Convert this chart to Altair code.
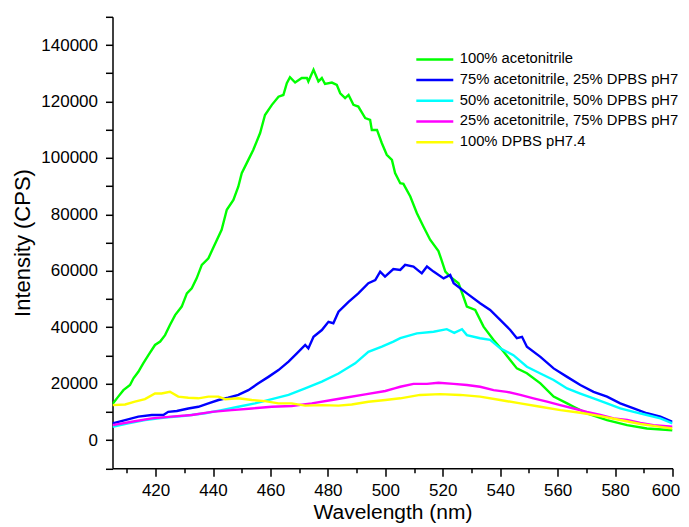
import altair as alt
import pandas as pd

series_names = [
    "100% acetonitrile",
    "75% acetonitrile, 25% DPBS pH7",
    "50% acetonitrile, 50% DPBS pH7",
    "25% acetonitrile, 75% DPBS pH7",
    "100% DPBS pH7.4",
]
series_colors = ["#00ff00", "#0000ff", "#00ffff", "#ff00ff", "#ffff00"]

green_wl = [405, 407, 408.8, 411.1, 412.3, 414, 415.7, 417.5, 419.8, 421.6, 423.3, 425, 426.8, 429.1,
            430.9, 432.6, 434.3, 436.1, 438.4, 440, 443, 444.8, 447.1, 448.8, 450, 452.3, 454, 456.4,
            458.1, 460.5, 462.8, 464.5, 465.7, 466.8, 468.6, 470.9, 472.7, 473.2, 475, 476.7, 477.9,
            479, 481.4, 483.1, 484.3, 486, 487.2, 488.9, 490.6, 493, 494.7, 495.3, 497.1, 498.8, 500.5,
            502.3, 503.4, 505.2, 506.3, 508.7, 511, 513.3, 515.6, 518.5, 519.5, 520.9, 523, 525.5,
            527.2, 528.4, 531.3, 534.2, 537.7, 541.2, 545.8, 549.3, 554, 558.6, 563.3, 565.6, 570.2,
            577.2, 584.2, 591.1, 600]
green_int = [12800, 15400, 17700, 19500, 21900, 24200, 27200, 30100, 33700, 34900, 37200, 40800, 44300,
             47300, 52000, 53800, 57300, 62100, 64400, 68000, 74500, 81600, 85100, 89800, 94600, 99300,
             102800, 108800, 115200, 118800, 121700, 122300, 126500, 128600, 126700, 128300, 128300,
             127100, 131200, 127100, 128300, 126200, 126700, 125900, 122900, 121200, 122300, 118800,
             118200, 114100, 113500, 109900, 109900, 105200, 101100, 99300, 94600, 91000, 90800, 86300,
             80400, 75600, 71000, 67000, 64000, 59700, 57500, 55600, 50800, 47300, 46100, 40200, 35500,
             31300, 25400, 23700, 20100, 15400, 13000, 11800, 9500, 7100, 5300, 4100, 3500]

blue_wl = [405, 409.4, 414, 418.7, 422.7, 424.4, 427.4, 431.4, 434.9, 438.4, 441.9, 445.3, 448.8, 452.3,
           455.8, 459.3, 462.8, 466.3, 469.2, 472.1, 473.2, 475, 477.9, 480.2, 481.9, 483.7, 487.2,
           490.6, 494.1, 496.5, 498.2, 499.9, 502.8, 505.2, 506.9, 509.8, 512.7, 514.5, 516.8, 520.3,
           522.6, 523.8, 528.4, 533, 536.5, 540, 543.5, 545.8, 547.6, 549.3, 554, 558.6, 563.3, 567.9,
           572.5, 577.2, 581.8, 586.5, 591.1, 595.8, 600]
blue_int = [5900, 7100, 8300, 8900, 8900, 10000, 10300, 11200, 11800, 13000, 14200, 15000, 16000, 17700,
            20100, 22400, 24800, 27800, 30700, 33700, 32500, 36600, 39000, 41900, 41400, 45500, 49000,
            52000, 55600, 56700, 59700, 57900, 60600, 60300, 62100, 61500, 59100, 61500, 59700, 57300,
            58500, 55600, 52000, 48500, 46100, 42600, 39000, 36100, 36600, 33100, 29500, 25400, 22400,
            19500, 17100, 15400, 13000, 11200, 9500, 8300, 6500]

cyan_wl = [405, 410.5, 416.3, 423.3, 430.3, 437.3, 443, 448.8, 454.6, 460.5, 466.3, 472.1, 477.9, 483.7,
           489.5, 494.1, 498.8, 502.8, 505.2, 511, 516.8, 521.4, 524, 526.7, 528.4, 533, 536.5, 540,
           544.6, 549.3, 554, 558.6, 563.3, 567.9, 572.5, 577.2, 581.8, 586.5, 591.1, 595.8, 600]
cyan_int = [4700, 5900, 7100, 8000, 8600, 9500, 10600, 11800, 13000, 14500, 16000, 18300, 20700, 23600,
            27200, 31300, 33100, 34900, 36100, 37800, 38400, 39300, 38000, 39300, 37200, 36100, 35500,
            32500, 30100, 26000, 23600, 21300, 18300, 16500, 14800, 13000, 11200, 10000, 8900, 7700, 5900]

magenta_wl = [405, 411.7, 418.7, 425.6, 432.6, 439.6, 446.5, 453.5, 460.5, 467.4, 474.4, 481.4, 486, 493,
              500, 503.2, 505.2, 509.8, 514.5, 518.5, 523.8, 528.4, 533, 537.7, 542.3, 547, 551.6,
              556.3, 560.9, 565.6, 570.2, 574.9, 579.5, 584.2, 588.8, 593.4, 600]
magenta_int = [5300, 6500, 7700, 8300, 8900, 10000, 10600, 11200, 11800, 12100, 13000, 14200, 15000,
               16200, 17400, 18300, 18900, 19900, 19900, 20300, 19900, 19500, 18900, 17700, 17100, 16000,
               14800, 13600, 12400, 11200, 10000, 8900, 7700, 7100, 6100, 5300, 4700]

yellow_wl = [405, 409.4, 412.8, 416.3, 419.8, 422.1, 425, 427.9, 431.4, 434.9, 438.4, 441.9, 444.2,
             448.8, 453.5, 458.1, 462.8, 467.4, 472.1, 477.9, 483.7, 488.3, 494.1, 500, 505.2, 512.1,
             519.1, 526.1, 533, 540, 547, 554, 561, 567.9, 574.9, 581.8, 588.8, 595.8, 600]
yellow_int = [12400, 12600, 13600, 14500, 16500, 16500, 17100, 15400, 15000, 14800, 15400, 15400, 14500,
              14800, 14200, 13800, 13000, 13000, 12200, 12400, 12200, 12600, 13600, 14200, 14800, 16000,
              16300, 16000, 15400, 14200, 13000, 11800, 10600, 9700, 8500, 7100, 5700, 4700, 4100]

x_ticks = list(range(410, 601, 10))
y_ticks = list(range(-10000, 150001, 10000))

rows = []
all_wl = [green_wl, blue_wl, cyan_wl, magenta_wl, yellow_wl]
all_int = [green_int, blue_int, cyan_int, magenta_int, yellow_int]
for i, (name, wls, vals) in enumerate(zip(series_names, all_wl, all_int)):
    for w, v in zip(wls, vals):
        rows.append({"Series": name, "Wavelength": w, "Intensity": v, "z": i})
df = pd.DataFrame(rows)

FONT = "Liberation Sans"

chart = alt.Chart(df).mark_line(strokeWidth=2.4, clip=True).encode(
    x=alt.X(
        "Wavelength:Q",
        scale=alt.Scale(domain=[405, 600], nice=False, zero=False),
        axis=alt.Axis(
            title="Wavelength (nm)",
            values=x_ticks,
            format="d",
            labelExpr="datum.value % 20 == 0 ? datum.label : ''",
            tickSize={"condition": {"test": "datum.value % 20 == 0", "value": 8}, "value": 4.5},
            labelOffset={"condition": {"test": "datum.value == 600", "value": -7}, "value": 0},
            labelOverlap=False,
            labelFlush=False,
            labelPadding=6,
            titleFontSize=21,
            titlePadding=3,
            grid=False,
        ),
    ),
    y=alt.Y(
        "Intensity:Q",
        scale=alt.Scale(domain=[-10000, 150000], nice=False, zero=False),
        axis=alt.Axis(
            title="Intensity (CPS)",
            values=y_ticks,
            format="d",
            labelExpr="datum.value % 20000 == 0 ? datum.label : ''",
            tickSize=7,
            labelOverlap=False,
            labelFlush=False,
            labelPadding=8,
            titleFontSize=22,
            titlePadding=6,
            grid=False,
        ),
    ),
    color=alt.Color(
        "Series:N",
        sort=series_names,
        scale=alt.Scale(domain=series_names, range=series_colors),
        legend=alt.Legend(
            title=None,
            orient="none",
            legendX=314.8,
            legendY=35.1,
            symbolType="M-3,0H3",
            symbolSize=152,
            symbolStrokeWidth=2.5,
            labelFontSize=14.8,
            labelFont=FONT,
            labelColor="black",
            labelLimit=0,
            labelOffset=17.4,
            rowPadding=4.7,
            padding=0,
        ),
    ),
    order=alt.Order("z:Q"),
).properties(
    width=560,
    height=451.5,
    autosize=alt.AutoSizeParams(type="none"),
    padding={"left": 104.5, "top": 8.8, "right": 8, "bottom": 58},
).configure_view(
    stroke=None
).configure_axis(
    domainColor="black",
    domainWidth=1.5,
    tickColor="black",
    tickWidth=1.5,
    labelFont=FONT,
    labelFontSize=17,
    labelColor="black",
    titleFont=FONT,
    titleColor="black",
    titleFontWeight="normal",
)

chart.save("out.html", embed_options={"renderer": "svg", "actions": False})
